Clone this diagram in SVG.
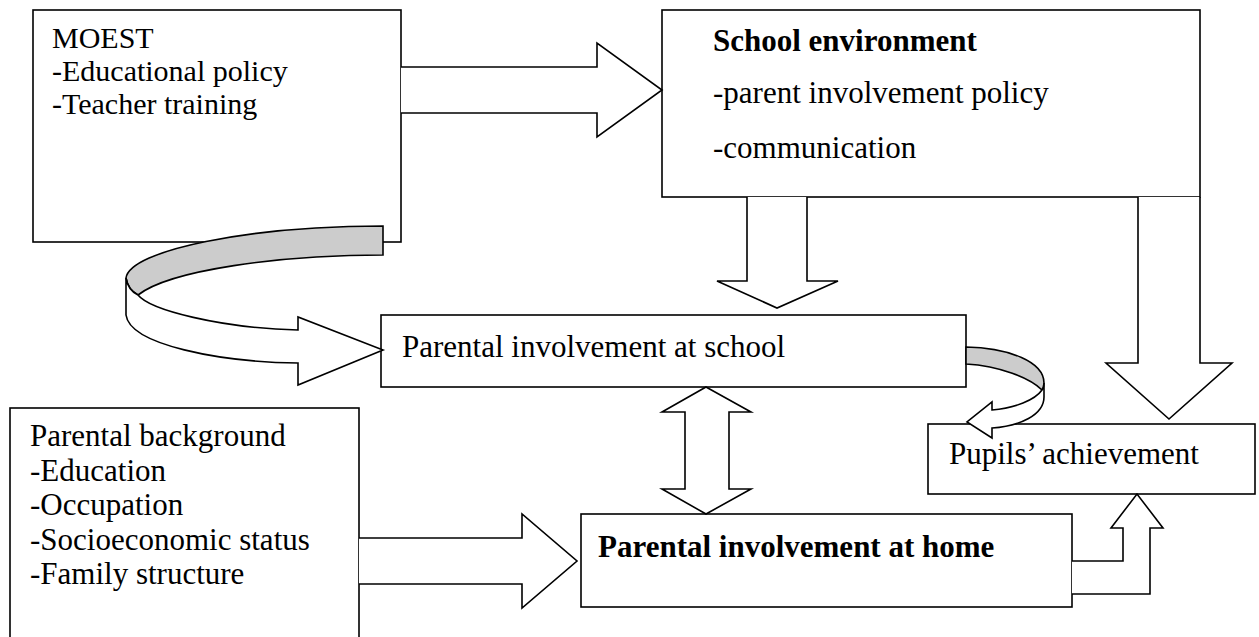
<svg xmlns="http://www.w3.org/2000/svg" width="1259" height="637" viewBox="0 0 1259 637">
<style>
.box{fill:#fff;stroke:#000;stroke-width:1.6}
.arr{fill:#fff;stroke:#000;stroke-width:1.6;stroke-linejoin:miter}
.back{fill:#cccccc;stroke:#000;stroke-width:1.6}
.t{font-family:"Liberation Serif","Times New Roman",serif;font-size:31px;fill:#000}
.s{font-size:30px}
.b{font-weight:bold}
</style>
<rect width="1259" height="637" fill="#fff"/>
<g id="moest">
<rect class="box" x="33" y="10" width="368" height="232"/>
<text class="t s" x="52" y="48">MOEST</text>
<text class="t s" x="52" y="81">-Educational policy</text>
<text class="t s" x="52" y="114">-Teacher training</text>
</g>
<g id="school-environment">
<rect class="box" x="662" y="10" width="538" height="187"/>
<text class="t b" x="713" y="51">School environment</text>
<text class="t" x="713" y="103">-parent involvement policy</text>
<text class="t" x="713" y="158">-communication</text>
</g>
<g id="involvement-school">
<rect class="box" x="381" y="315" width="585" height="72"/>
<text class="t" x="402" y="357">Parental involvement at school</text>
</g>
<g id="pupils-achievement">
<rect class="box" x="928" y="424" width="327" height="70"/>
<text class="t" x="949" y="464">Pupils’ achievement</text>
</g>
<g id="parental-background">
<rect class="box" x="10" y="408" width="349" height="240"/>
<text class="t" x="30" y="446">Parental background</text>
<text class="t" x="30" y="481">-Education</text>
<text class="t" x="30" y="515">-Occupation</text>
<text class="t" x="30" y="550">-Socioeconomic status</text>
<text class="t" x="30" y="584">-Family structure</text>
</g>
<g id="involvement-home">
<rect class="box" x="581" y="514" width="491" height="93"/>
<text class="t b" x="598" y="557">Parental involvement at home</text>
</g>
<g id="connectors">
<path class="arr" d="M401,67 L597,67 L597,43 L662,90 L597,137 L597,113 L401,113"/>
<path class="arr" d="M747,197 L747,281 L717,281 L777,308 L838,281 L807,281 L807,197"/>
<path class="arr" d="M1138,197 L1138,363 L1106,363 L1169,419 L1232,363 L1200,363 L1200,197"/>
<path class="arr" d="M706,387 L751,412 L729,412 L729,489 L751,489 L706,514 L662,489 L685,489 L685,412 L662,412 Z"/>
<path class="arr" d="M359,538 L522,538 L522,514 L577,561 L522,608 L522,584 L359,584"/>
<path class="arr" d="M1072,561 L1123,561 L1123,528 L1111,528 L1137,494 L1163,528 L1150,528 L1150,594 L1072,594"/>
<path class="back" d="M383,226 C250,226 130,250 126,278 Q128,290 138,295 C170,270 280,255 383,255 Z"/>
<path class="arr" d="M126,278 L126,315 C130,345 220,362 298,363 L298,385 L383,350 L298,317 L298,330 C220,328 150,310 138,295 Q128,290 126,278 Z"/>
<path class="back" d="M966,347 C1010,348 1044,362 1044,383 Q1044,387 1042,390 C1030,378 1000,366 966,364 Z"/>
<path class="arr" d="M1044,383 L1044,397 C1044,415 1020,426 992,428 L992,438 L967,422 L992,402 L992,410 C1015,408 1035,400 1042,390 Q1044,387 1044,383 Z"/>
</g>
</svg>
